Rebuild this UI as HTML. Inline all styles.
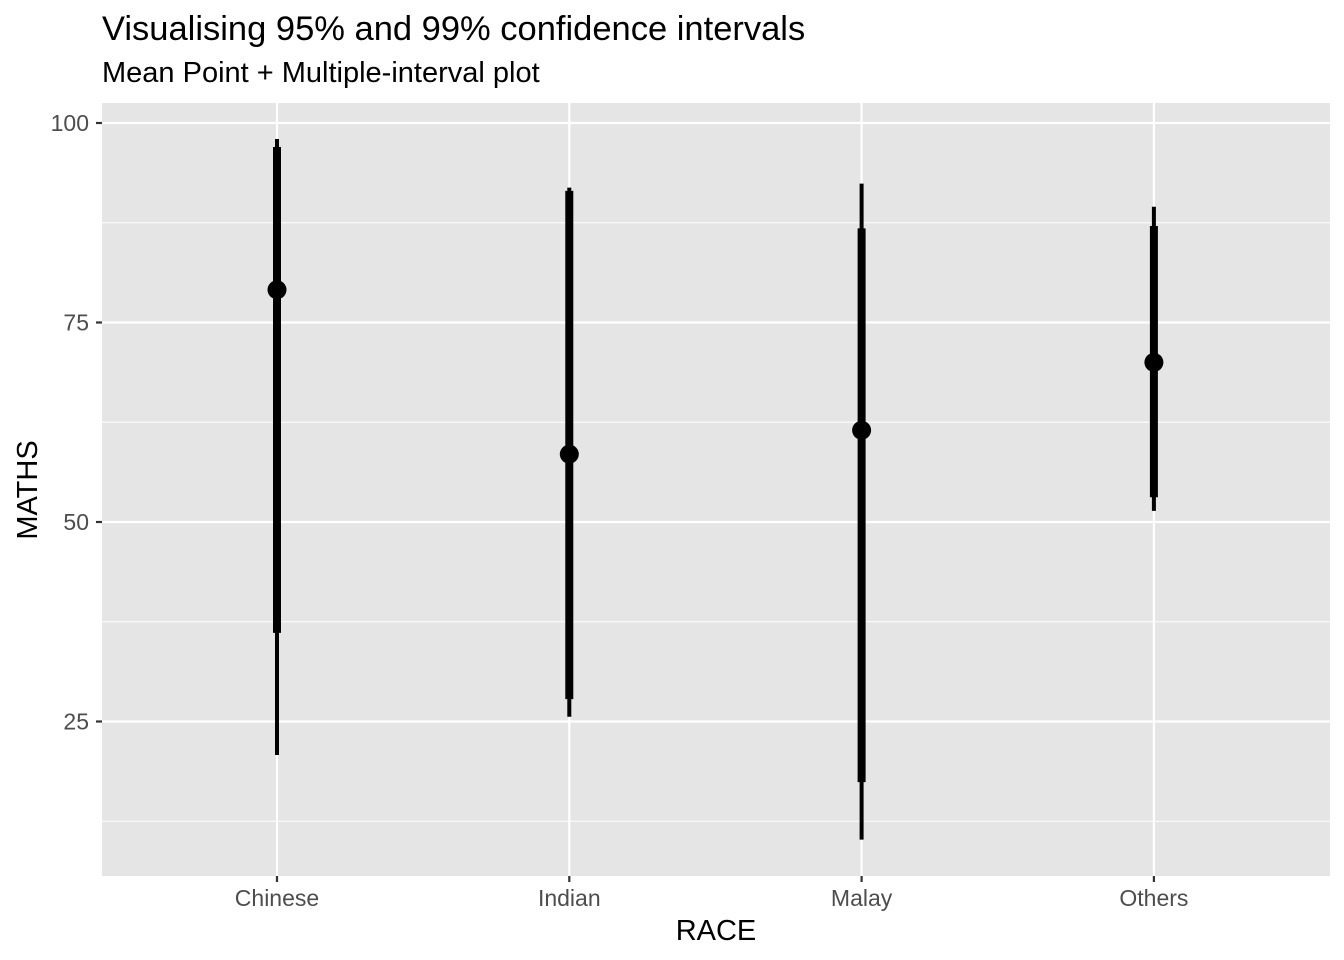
<!DOCTYPE html>
<html><head><meta charset="utf-8"><style>
body{margin:0;background:#fff;}
svg{display:block;font-family:"Liberation Sans",Arial,sans-serif;}
</style></head><body>
<svg id="chart" width="1344" height="960">
<text x="102" y="40" font-size="34.5" fill="#000">Visualising 95% and 99% confidence intervals</text>
<text x="102" y="82" font-size="29" fill="#000">Mean Point + Multiple-interval plot</text>
<rect x="102" y="103" width="1228" height="773" fill="#e5e5e5"/>
<g id="grid"></g>
<g id="marks"></g>
<g id="axes"></g>
<text x="716" y="940" font-size="29" text-anchor="middle">RACE</text>
<text transform="translate(37,490) rotate(-90)" font-size="29" text-anchor="middle">MATHS</text>
</svg>
<script>
const categories=["Chinese","Indian","Malay","Others"];
const means=[79.1,58.5,61.5,70.0];
const lo95=[36.1,27.8,17.4,53.1];
const hi95=[97.0,91.5,86.8,87.1];
const lo99=[20.8,25.6,10.2,51.4];
const hi99=[98.0,91.9,92.4,89.5];
const yTicks=[25,50,75,100];
const yMinor=[12.5,37.5,62.5,87.5];

const NS="http://www.w3.org/2000/svg";
const y=v=>123+(100-v)*7.98;
const x=i=>277+i*292.3;
function mk(tag,attrs,parent){const e=document.createElementNS(NS,tag);for(const k in attrs)e.setAttribute(k,attrs[k]);document.getElementById(parent).appendChild(e);return e;}

yMinor.forEach(v=>{const l=mk('line',{x1:102,x2:1330,y1:y(v),y2:y(v),stroke:'#fff','stroke-width':1.1},'grid');

});
yTicks.forEach(v=>{const l=mk('line',{x1:102,x2:1330,y1:y(v),y2:y(v),stroke:'#fff','stroke-width':2.2},'grid');


const t=mk('line',{x1:96,x2:102,y1:y(v),y2:y(v),stroke:'#333','stroke-width':2.2},'axes');


const tx=mk('text',{x:89,y:y(v)+8,'font-size':23,fill:'#4d4d4d','text-anchor':'end'},'axes');tx.textContent=v;

});
categories.forEach((c,i)=>{const l=mk('line',{x1:x(i),x2:x(i),y1:103,y2:876,stroke:'#fff','stroke-width':2.2},'grid');


const t=mk('line',{x1:x(i),x2:x(i),y1:876,y2:882,stroke:'#333','stroke-width':2.2},'axes');


const tx=mk('text',{x:x(i),y:906,'font-size':23,fill:'#4d4d4d','text-anchor':'middle'},'axes');tx.textContent=c;


const a=mk('line',{x1:x(i),x2:x(i),y1:y(lo99[i]),y2:y(hi99[i]),stroke:'#000','stroke-width':4},'marks');


const b=mk('line',{x1:x(i),x2:x(i),y1:y(lo95[i]),y2:y(hi95[i]),stroke:'#000','stroke-width':8},'marks');


const p=mk('circle',{cx:x(i),cy:y(means[i]),r:9.5,fill:'#000'},'marks');

});
</script>
</body></html>
